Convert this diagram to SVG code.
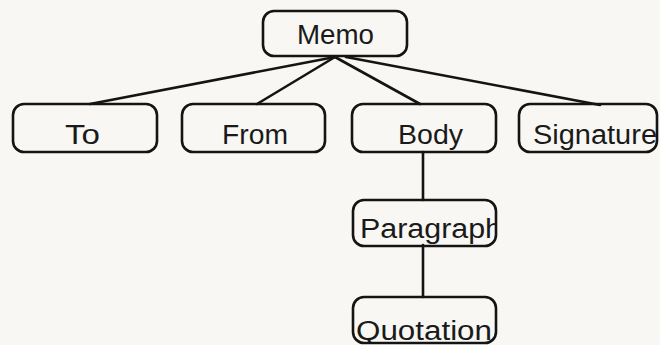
<svg xmlns="http://www.w3.org/2000/svg" width="660" height="345" viewBox="0 0 660 345">
<defs>
<style>
.box{fill:none;stroke:#141414;stroke-width:2.6}
.lbl{font-family:"Liberation Sans",Arial,sans-serif;font-size:27px;fill:#1a1a1a}
.edge{stroke:#141414;stroke-width:2.6;fill:none;stroke-linecap:round}
</style>
<clipPath id="cpPara"><rect x="353" y="200" width="143" height="46" rx="11"/></clipPath>
<clipPath id="cpQuot"><rect x="353" y="297" width="143" height="46" rx="11"/></clipPath>
<clipPath id="cpSig"><rect x="519" y="104" width="138" height="48" rx="11"/></clipPath>
</defs>
<rect width="660" height="345" fill="#f8f7f3"/>
<g id="connectors">
<line class="edge" x1="335" y1="57" x2="90" y2="104"/>
<line class="edge" x1="335" y1="57" x2="257" y2="104"/>
<line class="edge" x1="335" y1="57" x2="420" y2="104"/>
<line class="edge" x1="346" y1="57" x2="600" y2="105"/>
<line class="edge" x1="423" y1="152" x2="423" y2="200"/>
<line class="edge" x1="423" y1="245" x2="423" y2="297"/>
</g>
<g id="memo">
<rect class="box" x="263" y="11" width="144" height="45" rx="11"/>
<text class="lbl" x="297" y="44" textLength="77" lengthAdjust="spacingAndGlyphs">Memo</text>
</g>
<g id="to">
<rect class="box" x="13" y="104" width="144" height="48" rx="11"/>
<text class="lbl" x="65" y="144" textLength="35" lengthAdjust="spacingAndGlyphs">To</text>
</g>
<g id="from">
<rect class="box" x="182" y="104" width="143" height="48" rx="11"/>
<text class="lbl" x="222" y="144" textLength="66" lengthAdjust="spacingAndGlyphs">From</text>
</g>
<g id="body">
<rect class="box" x="352" y="104" width="144" height="48" rx="11"/>
<text class="lbl" x="398" y="144" textLength="65" lengthAdjust="spacingAndGlyphs">Body</text>
</g>
<g id="signature">
<text class="lbl" x="533" y="144" textLength="124" lengthAdjust="spacingAndGlyphs" clip-path="url(#cpSig)">Signature</text>
<rect class="box" x="519" y="104" width="138" height="48" rx="11"/>
</g>
<g id="paragraph">
<text class="lbl" x="360" y="238" textLength="142" lengthAdjust="spacingAndGlyphs" clip-path="url(#cpPara)">Paragraph</text>
<rect class="box" x="353" y="200" width="143" height="46" rx="11"/>
</g>
<g id="quotation">
<text class="lbl" x="356" y="340" textLength="136" lengthAdjust="spacingAndGlyphs" clip-path="url(#cpQuot)">Quotation</text>
<rect class="box" x="353" y="297" width="143" height="46" rx="11"/>
</g>
</svg>
